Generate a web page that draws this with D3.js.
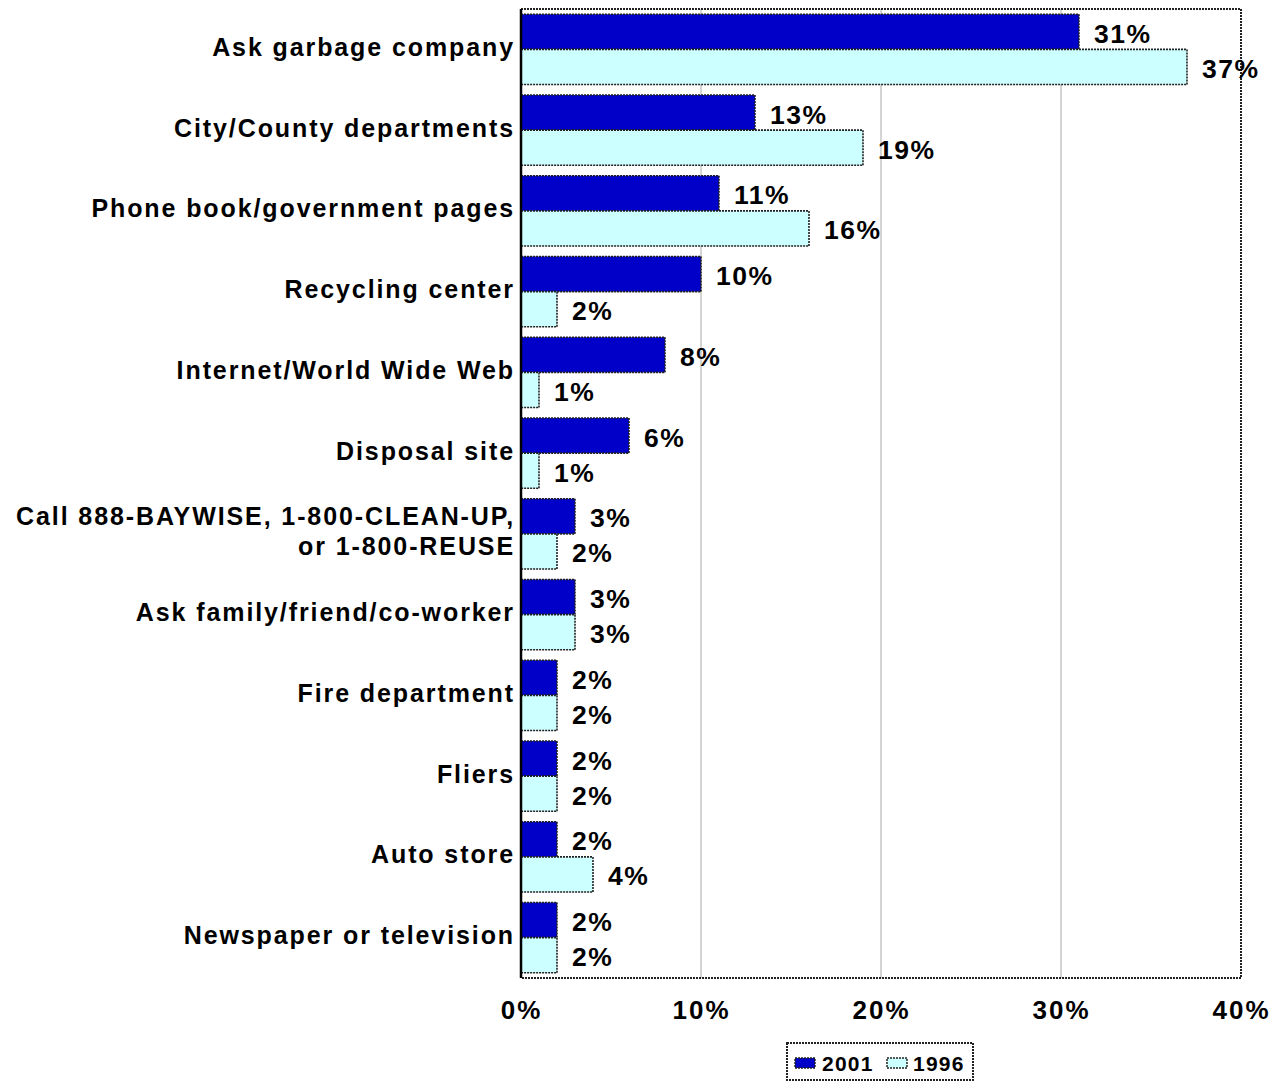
<!DOCTYPE html>
<html>
<head>
<meta charset="utf-8">
<script src="https://cdn.jsdelivr.net/npm/d3@7"></script>
<style>
  html, body { margin: 0; padding: 0; background: #fff; }
  svg { display: block; font-family: Arial, "Liberation Sans", sans-serif; font-weight: bold; }
</style>
</head>
<body>
<svg id="chart" width="1281" height="1081"></svg>
<script>
// Where residents look for information on disposal options
const categories = [
  "Ask garbage company",
  "City/County departments",
  "Phone book/government pages",
  "Recycling center",
  "Internet/World Wide Web",
  "Disposal site",
  "Call 888-BAYWISE, 1-800-CLEAN-UP,|or 1-800-REUSE",
  "Ask family/friend/co-worker",
  "Fire department",
  "Fliers",
  "Auto store",
  "Newspaper or television"
];
const seriesNames = ["2001", "1996"];
const values2001 = [31, 13, 11, 10, 8, 6, 3, 3, 2, 2, 2, 2];
const values1996 = [37, 19, 16, 2, 1, 1, 2, 3, 2, 2, 4, 2];
const tickValues = [0, 10, 20, 30, 40];

const colors = { "2001": "#0000C8", "1996": "#CCFFFF" };

const rows = categories.map((c, i) => ({
  cat: c,
  vals: [
    { key: "2001", v: values2001[i] },
    { key: "1996", v: values1996[i] }
  ]
}));

const svg = d3.select("#chart");
const plot = { left: 521, right: 1241, top: 9, bottom: 978 };

const x = d3.scaleLinear().domain([0, 40]).range([plot.left, plot.right]);
const y0 = d3.scaleBand().domain(categories).range([plot.top, plot.bottom])
  .paddingInner(0.13).paddingOuter(0.065);
const y1 = d3.scaleBand().domain(seriesNames).range([0, y0.bandwidth()]);

// vertical gridlines
svg.append("g").selectAll("line")
  .data(tickValues.filter(t => t > 0 && t < 40))
  .join("line")
  .attr("x1", d => x(d)).attr("x2", d => x(d))
  .attr("y1", plot.top).attr("y2", plot.bottom)
  .attr("stroke", "#b8b8b8").attr("stroke-width", 1.2);

// plot frame (dotted)
svg.append("rect")
  .attr("x", plot.left).attr("y", plot.top)
  .attr("width", plot.right - plot.left).attr("height", plot.bottom - plot.top)
  .attr("fill", "none").attr("stroke", "#222").attr("stroke-width", 2)
  .attr("stroke-dasharray", "2,1");

// bars
const groups = svg.append("g").selectAll("g")
  .data(rows).join("g")
  .attr("transform", d => `translate(0,${y0(d.cat)})`);

groups.selectAll("rect")
  .data(d => d.vals).join("rect")
  .attr("x", x(0))
  .attr("y", d => y1(d.key))
  .attr("width", d => x(d.v) - x(0))
  .attr("height", y1.bandwidth())
  .attr("fill", d => colors[d.key])
  .attr("stroke", "#222").attr("stroke-width", 1.6)
  .attr("stroke-dasharray", "2,1");

// value labels
groups.selectAll("text")
  .data(d => d.vals).join("text")
  .attr("x", d => x(d.v) + 15)
  .attr("y", d => y1(d.key) + y1.bandwidth() / 2 + 4)
  .attr("dominant-baseline", "middle")
  .attr("font-size", 26.5).attr("letter-spacing", 1.5)
  .attr("fill", "#000")
  .text(d => d.v + "%");

// left axis line (solid)
svg.append("line")
  .attr("x1", plot.left).attr("x2", plot.left)
  .attr("y1", plot.top).attr("y2", plot.bottom)
  .attr("stroke", "#000").attr("stroke-width", 2.5);

// category labels
const catLabels = svg.append("g").selectAll("text")
  .data(categories).join("text")
  .attr("text-anchor", "end")
  .attr("font-size", 25).attr("letter-spacing", 1.9)
  .attr("fill", "#000")
  .attr("transform", d => `translate(515,${y0(d) + y0.bandwidth() / 2})`);

catLabels.each(function(d) {
  const lines = d.split("|");
  const t = d3.select(this);
  const lh = 30;
  lines.forEach((ln, i) => {
    t.append("tspan")
      .attr("x", 0)
      .attr("y", (i - (lines.length - 1) / 2) * lh)
      .attr("dominant-baseline", "middle")
      .text(ln);
  });
});

// x axis tick labels
const xAxis = d3.axisBottom(x).tickValues(tickValues).tickFormat(d => d + "%").tickSize(0).tickPadding(0);
const gx = svg.append("g").attr("transform", `translate(0,${plot.bottom})`).call(xAxis);
gx.select(".domain").remove();
gx.selectAll("text")
  .attr("font-size", 26).attr("letter-spacing", 2)
  .attr("font-family", "Arial, 'Liberation Sans', sans-serif")
  .attr("font-weight", "bold").attr("fill", "#000")
  .attr("dy", null).attr("y", 34).attr("dominant-baseline", "middle");

// legend
const legend = svg.append("g").attr("transform", "translate(787,1043)");
legend.append("rect")
  .attr("width", 186).attr("height", 37)
  .attr("fill", "#fff").attr("stroke", "#222").attr("stroke-width", 2)
  .attr("stroke-dasharray", "2,1");
const legendItems = [
  { key: "2001", sx: 8, tx: 35 },
  { key: "1996", sx: 100, tx: 126 }
];
legendItems.forEach(it => {
  legend.append("rect")
    .attr("x", it.sx).attr("y", 15).attr("width", 20).attr("height", 10)
    .attr("fill", colors[it.key]).attr("stroke", "#222").attr("stroke-width", 1.5)
    .attr("stroke-dasharray", "2,1");
  legend.append("text")
    .attr("x", it.tx).attr("y", 22)
    .attr("dominant-baseline", "middle")
    .attr("font-size", 21).attr("letter-spacing", 1.2)
    .attr("fill", "#000")
    .text(it.key);
});
</script>
</body>
</html>
